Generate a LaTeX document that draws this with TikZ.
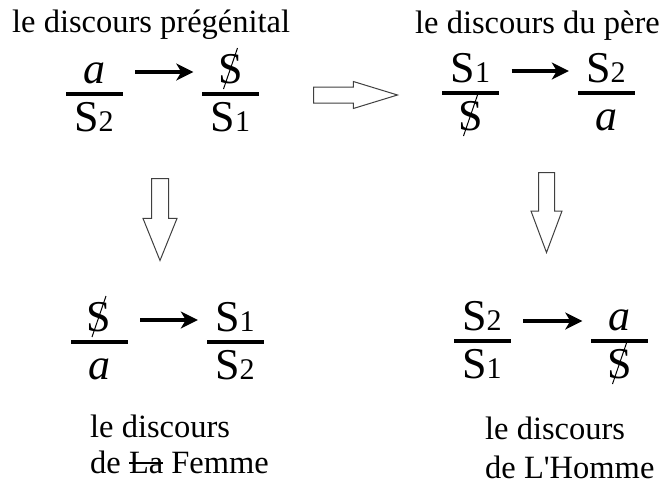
\documentclass[tikz,border=0pt]{standalone}
\usepackage{fontspec}
\setmainfont{Liberation Serif}
\usetikzlibrary{arrows.meta,calc,shapes.arrows}
\tikzset{
  fracbar/.style={draw=none,fill=black,minimum width=57pt,minimum height=4pt,inner sep=0pt},
  term/.style={inner sep=0pt,font=\fontsize{44}{46}\selectfont},
  caption/.style={inner sep=0pt,align=left,font=\fontsize{32.5}{36}\selectfont},
  arrow/.style={-{Stealth[length=17pt,width=17pt,inset=5pt]},line width=4pt},
  slash/.style={line width=1pt},
  blockarrow/.style={single arrow,draw=black!75,fill=white,line width=1pt,
    inner xsep=0pt,single arrow head indent=0pt,anchor=tail}
}
% S with a small index
\newcommand{\Sidx}[1]{S{\fontsize{30}{30}\selectfont #1}}
% struck-through word
\newcommand{\struck}[1]{\setbox0\hbox{#1}\rlap{\rule[0.28em]{\wd0}{0.065em}}#1}
% fraction: name, x, y of bar, top, bottom
\newcommand{\discfrac}[5]{%
  \node[fracbar] (#1) at (#2,#3) {};
  \node[term,anchor=base] (#1-t) at (#2,#3-11) {#4};
  \node[term,anchor=base] (#1-b) at (#2,#3+37) {#5};
}
% slash through a barred subject
\newcommand{\slashS}[1]{\draw[slash] ($(#1.base)+(-7,6)$) -- ($(#1.base)+(7,-35)$);}

\begin{document}
\begin{tikzpicture}[x=1pt,y=-1pt]
\useasboundingbox (0,0) rectangle (662,485);
% captions
\node[caption,anchor=base west] (cpre) at (12,32) {le discours prégénital};
\node[caption,anchor=base west] (cpere) at (415,33) {le discours du père};
\node[caption,anchor=base west] (cfem) at (90,473) {le discours\\de \struck{La} Femme};
\node[caption,anchor=base west] (chom) at (485,478) {le discours\\[3pt]de L\textquotesingle Homme};
% the four discourses
\discfrac{pa}{94}{94}{\textit{a}}{\Sidx{2}}
\discfrac{pb}{230.5}{94}{S}{\Sidx{1}}
\discfrac{qa}{470.5}{93}{\Sidx{1}}{S}
\discfrac{qb}{606}{93}{\Sidx{2}}{\textit{a}}
\discfrac{fa}{99}{342}{S}{\textit{a}}
\discfrac{fb}{235}{342}{\Sidx{1}}{\Sidx{2}}
\discfrac{ha}{482}{341}{\Sidx{2}}{\Sidx{1}}
\discfrac{hb}{619.5}{341}{\textit{a}}{S}
\slashS{pb-t}
\slashS{qa-b}
\slashS{fa-t}
\slashS{hb-b}
\draw[arrow] ($(pa.east)+(12.5,-22)$) -- ($(pb.west)+(-8.5,-22)$);
\draw[arrow] ($(qa.east)+(12.5,-22)$) -- ($(qb.west)+(-8.5,-22)$);
\draw[arrow] ($(fa.east)+(12.5,-22)$) -- ($(fb.west)+(-8.5,-22)$);
\draw[arrow] ($(ha.east)+(12.5,-20)$) -- ($(hb.west)+(-8.5,-20)$);
% hollow arrows between the discourses
\node[blockarrow,minimum height=84pt,inner ysep=7.5pt,single arrow head extend=5.5pt,
  single arrow tip angle=34] (to-pere) at (313,95) {};
\node[blockarrow,rotate=-90,minimum height=82pt,inner ysep=8pt,single arrow head extend=8.5pt,
  single arrow tip angle=44] (to-fem) at (160,178) {};
\node[blockarrow,rotate=-90,minimum height=80pt,inner ysep=7.5pt,single arrow head extend=7.5pt,
  single arrow tip angle=41] (to-hom) at (546.5,172) {};
\end{tikzpicture}
\end{document}
